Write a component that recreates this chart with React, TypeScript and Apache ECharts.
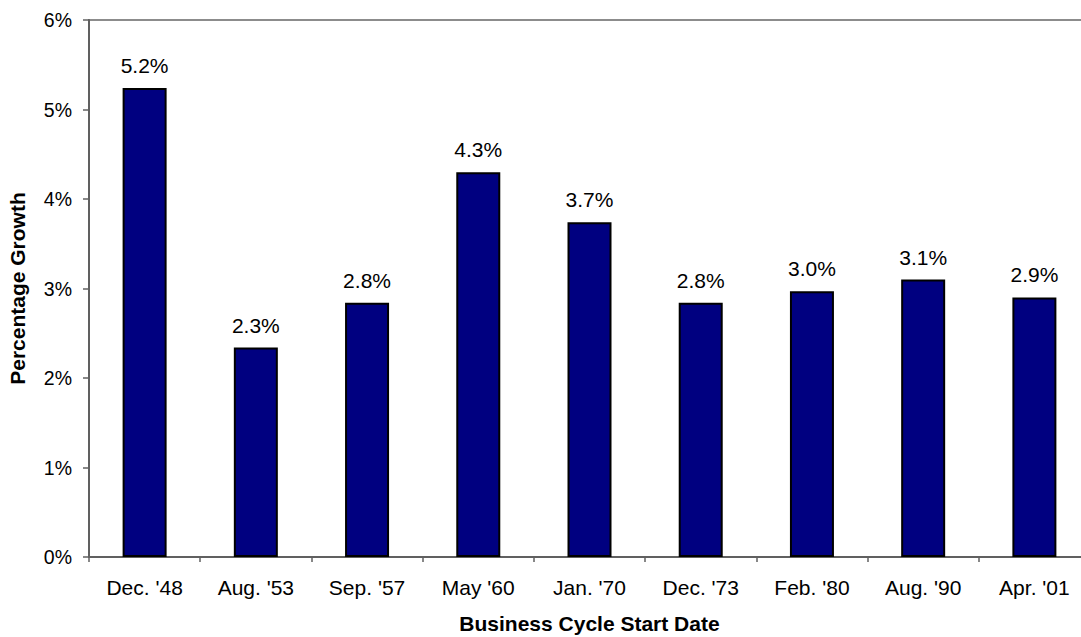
import React, { useEffect, useRef } from "react";
import * as echarts from "echarts";

const categories = ["Dec. '48", "Aug. '53", "Sep. '57", "May '60", "Jan. '70", "Dec. '73", "Feb. '80", "Aug. '90", "Apr. '01"];
const growth = [5.24, 2.34, 2.84, 4.3, 3.74, 2.84, 2.97, 3.1, 2.9];
const yTicks = { min: 0, max: 6, interval: 1 };
const xTitle = "Business Cycle Start Date";
const yTitle = "Percentage Growth";

const FONT = "'Liberation Sans', Arial, sans-serif";

export default function App() {
  const ref = useRef<HTMLDivElement>(null);
  useEffect(() => {
    if (!ref.current) return;
    const chart = echarts.init(ref.current, null, { renderer: "svg" });
    chart.setOption({
      animation: false,
      backgroundColor: "#ffffff",
      textStyle: { fontFamily: FONT },
      grid: {
        left: 89,
        top: 20,
        width: 1001,
        height: 537,
        show: true,
        borderColor: "#8c8c8c",
        borderWidth: 2,
        containLabel: false,
        outerBoundsMode: "none",
      },
      xAxis: {
        type: "category",
        data: categories,
        name: xTitle,
        nameLocation: "middle",
        nameGap: 56,
        nameTextStyle: { fontFamily: FONT, fontSize: 21, fontWeight: "bold", color: "#000" },
        axisLine: { lineStyle: { color: "#606060", width: 2 } },
        axisTick: { show: true, length: 5, lineStyle: { color: "#606060", width: 1.5 } },
        axisLabel: { fontFamily: FONT, fontSize: 21, color: "#000", margin: 20, interval: 0 },
        splitLine: { show: false },
      },
      yAxis: {
        type: "value",
        min: yTicks.min,
        max: yTicks.max,
        interval: yTicks.interval,
        name: yTitle,
        nameLocation: "middle",
        nameRotate: 90,
        nameGap: 61,
        nameTextStyle: { fontFamily: FONT, fontSize: 21, fontWeight: "bold", color: "#000" },
        axisLine: { show: true, lineStyle: { color: "#606060", width: 2 } },
        axisTick: { show: true, length: 6, lineStyle: { color: "#606060", width: 1.5 } },
        axisLabel: { fontFamily: FONT, fontSize: 19.5, color: "#000", margin: 17, formatter: "{value}%" },
        splitLine: { show: false },
      },
      series: [
        {
          type: "bar",
          data: growth,
          barWidth: 44,
          itemStyle: { color: "#000080", borderColor: "#000000", borderWidth: 2 },
          label: {
            show: true,
            position: "top",
            distance: 12,
            fontFamily: FONT,
            fontSize: 21,
            color: "#000",
            formatter: (p: any) => Number(p.value).toFixed(1) + "%",
          },
        },
      ],
    });
    return () => chart.dispose();
  }, []);
  return (
    <div
      ref={ref}
      style={{ position: "fixed", left: 0, top: 0, width: 1081, height: 637, overflow: "hidden", background: "#fff" }}
    />
  );
}
